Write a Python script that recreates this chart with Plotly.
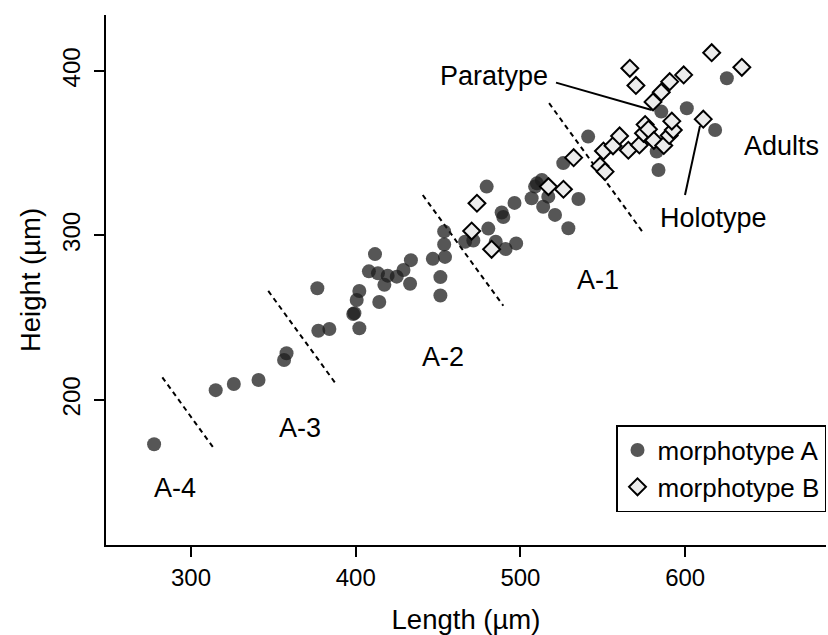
import plotly.graph_objects as go

# Morphotype A (length, height) in µm
a_len = [277.6, 315, 326, 341, 356.5, 358, 376.7, 377.3, 384, 398.5, 399.2, 400.6, 402.2, 402.2,
         411.7, 408, 413.5, 414.3, 417.4, 419.4, 424.9, 429, 433.5, 433, 446.8, 451.4, 451.4,
         453.7, 453.7, 454.2, 466.4, 471.4, 479.5, 480.5, 485, 488.6, 489.6, 491, 497.4, 496.4,
         506.8, 508.9, 510, 513, 513.8, 516.9, 521, 526, 529.1, 535.2, 541.1,
         585.5, 601, 625.3, 618.2, 582.7, 583.8]
a_hgt = [173.1, 206, 209.7, 212.2, 224.3, 228.4, 267.9, 242.1, 243.2, 252.3, 252.8, 260.8, 266.3, 243.6,
         288.7, 278.2, 277, 259.6, 270, 275.6, 275, 279, 285, 270.7, 285.8, 274.7, 263.5,
         302.5, 294.6, 287, 296.2, 297, 329.7, 304.2, 296.2, 314, 311.2, 291.8, 295.2, 319.8,
         322.6, 329.7, 331.7, 333.7, 317.5, 323.6, 312.5, 344, 304.4, 322.2, 360.1,
         375.3, 377.3, 395.6, 364.1, 351, 339.8]

# Morphotype B (length, height) in µm
b_len = [470.4, 473.6, 482.5, 517, 526.1, 532.3, 548.3, 551.4, 550.4, 556.2, 560.2, 565.5, 572.2,
         574.7, 575.7, 577.7, 581, 587, 590.3, 592.8, 591.9, 580.5, 585.5, 590.6, 599.1, 566.4,
         570.1, 616.1, 634.4, 611]
b_hgt = [302.7, 319.6, 291.6, 329.7, 328.1, 347.3, 342.3, 338.8, 351.3, 354.5, 360.5, 351.8, 355,
         362.1, 367.4, 364.5, 357.8, 354.7, 360.8, 364.1, 369.5, 381.2, 387.1, 393.5, 397.6, 401.6,
         391.2, 411.1, 402.2, 370.7]

# Stage boundary dashed lines (start, end) in data units
bound_x = [[282.6, 314.6], [346.9, 388.5], [440.7, 489.6], [517.4, 575.2]]
bound_y = [[213.8, 169.6], [266.3, 209.1], [324.6, 257.3], [380.4, 300.7]]

# Labels
label_text = ["A-4", "A-3", "A-2", "A-1", "Adults", "Holotype", "Paratype"]
label_x = [290.3, 366.2, 453, 547.1, 658.2, 617.5, 484]
label_y = [146.5, 183, 226.1, 273, 354.4, 310.6, 397]

# Pointer lines (x0, y0, x1, y1)
pointers = [[521.6, 392.9, 579.7, 376.3], [599.9, 324.6, 609, 366.6]]

FONT = "Liberation Sans, Arial, sans-serif"

fig = go.Figure()
for bx, by in zip(bound_x, bound_y):
    fig.add_trace(go.Scatter(x=bx, y=by, mode="lines", showlegend=False, hoverinfo="skip",
                             line=dict(color="black", width=2, dash="5px,4px")))

fig.add_trace(go.Scatter(x=a_len, y=a_hgt, mode="markers", name="morphotype A",
                         marker=dict(symbol="circle", size=14, color="rgba(30,30,30,0.75)",
                                     line=dict(width=0))))
fig.add_trace(go.Scatter(x=b_len, y=b_hgt, mode="markers", name="morphotype B",
                         marker=dict(symbol="diamond", size=13, color="#ececec",
                                     line=dict(width=2, color="black"))))

for t, x, y in zip(label_text, label_x, label_y):
    fig.add_annotation(x=x, y=y, text=t, showarrow=False, xref="x", yref="y",
                       font=dict(family=FONT, size=27, color="black"))

for p in pointers:
    fig.add_shape(type="line", xref="x", yref="y", x0=p[0], y0=p[1], x1=p[2], y1=p[3],
                  line=dict(color="black", width=2))

fig.update_layout(
    width=828, height=635,
    margin=dict(l=106, r=2, t=15, b=90),
    paper_bgcolor="white", plot_bgcolor="white",
    font=dict(family=FONT, size=24, color="black"),
    legend=dict(x=1, y=0.062, xanchor="right", yanchor="bottom",
                bgcolor="white", bordercolor="black", borderwidth=1.5,
                font=dict(family=FONT, size=26), itemwidth=30,
                tracegroupgap=0),
)
fig.update_xaxes(range=[248.4, 685.5], showgrid=False, zeroline=False,
                 showline=True, linecolor="black", linewidth=2,
                 ticks="outside", ticklen=10, tickwidth=1.5, tickcolor="black",
                 tickvals=[300, 400, 500, 600], tickfont=dict(size=24),
                 title=dict(text="Length (µm)", standoff=20, font=dict(size=27.5)))
fig.update_yaxes(range=[111.9, 434], showgrid=False, zeroline=False,
                 showline=True, linecolor="black", linewidth=2,
                 ticks="outside", ticklen=10, tickwidth=1.5, tickcolor="black",
                 tickvals=[200, 300, 400], tickangle=-90, tickfont=dict(size=24),
                 ticklabelstandoff=4,
                 title=dict(text="Height (µm)", standoff=10, font=dict(size=27.5)))

fig.write_html("out.html")
